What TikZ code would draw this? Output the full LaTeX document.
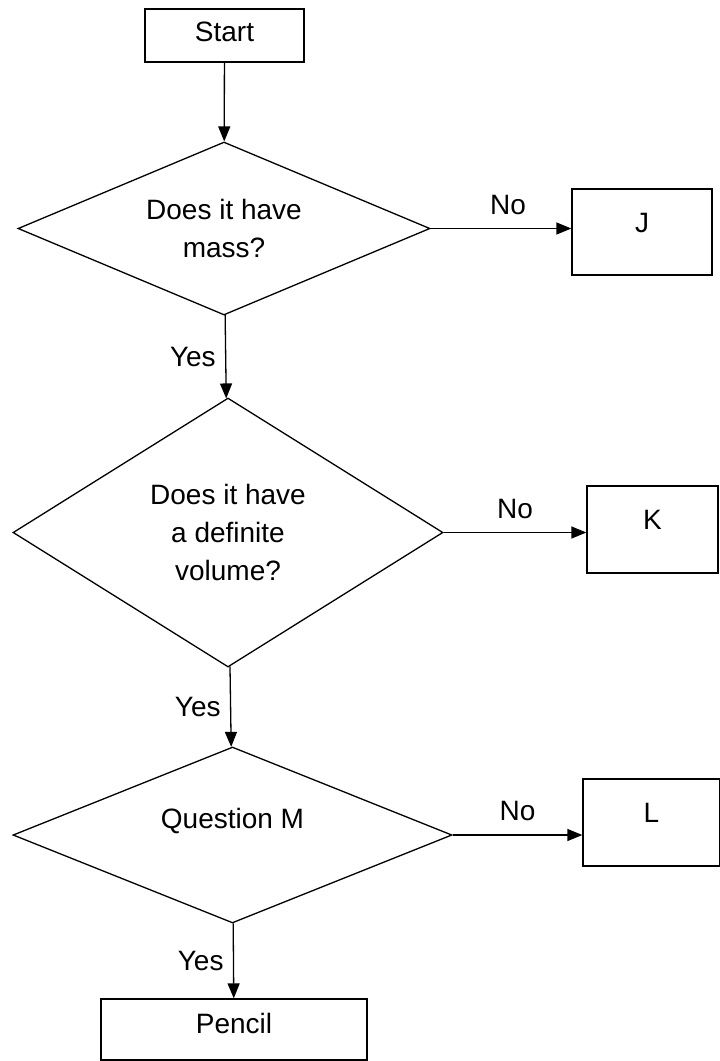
\documentclass[tikz,border=0pt]{standalone}
\usepackage{fontspec}
\setmainfont{Liberation Sans}
\usetikzlibrary{shapes.geometric,arrows.meta}

\begin{document}
\begin{tikzpicture}[x=1pt, y=-1pt,
    every node/.style={font=\fontsize{28}{38}\selectfont},
    box/.style={draw, line width=1.3pt, rectangle, inner sep=0pt, text height=25pt},
    query/.style={draw, line width=1.3pt, diamond, align=center, inner sep=0pt},
    flow/.style={line width=1.3pt, -{Triangle[length=15pt,width=12pt]}}]
    \useasboundingbox (0,0) rectangle (720,1061);

    \node[box, minimum width=159pt, minimum height=53pt, text depth=14pt] (start) at (224.5,35.5) {Start};
    \node[query, shape aspect=2.38, minimum width=412pt, minimum height=173pt] (q1) at (224,228.5) {Does it have\\mass?};
    \node[box, minimum width=140pt, minimum height=86pt, text depth=25pt] (j) at (642,232) {J};
    \node[query, shape aspect=1.6, minimum width=430pt, minimum height=269pt] (q2) at (228,532.5) {Does it have\\a definite\\volume?};
    \node[box, minimum width=131pt, minimum height=87pt, text depth=25pt] (k) at (652.5,529.5) {K};
    \node[query, shape aspect=2.5, minimum width=439pt, minimum height=176pt, text height=25pt, text depth=38pt] (q3) at (232.5,835) {Question M};
    \node[box, minimum width=137pt, minimum height=87pt, text depth=25pt] (l) at (651.5,822.5) {L};
    \node[box, minimum width=266pt, minimum height=61pt, text depth=18pt] (pencil) at (234,1029.5) {Pencil};

    \draw[flow] (start) -- (q1);
    \draw[flow] (q1) -- node[left=6pt] {Yes} (q2);
    \draw[flow] (q2) -- node[left=6pt] {Yes} (q3);
    \draw[flow] (q3) -- node[left=6pt] {Yes} (pencil);
    \draw[flow] (q1.east) -- node[above=10pt, pos=0.55] {No} (q1.east -| j.west);
    \draw[flow] (q2.east) -- node[above=10pt] {No} (q2.east -| k.west);
    \draw[flow] (q3.east) -- node[above=10pt] {No} (q3.east -| l.west);
\end{tikzpicture}
\end{document}
